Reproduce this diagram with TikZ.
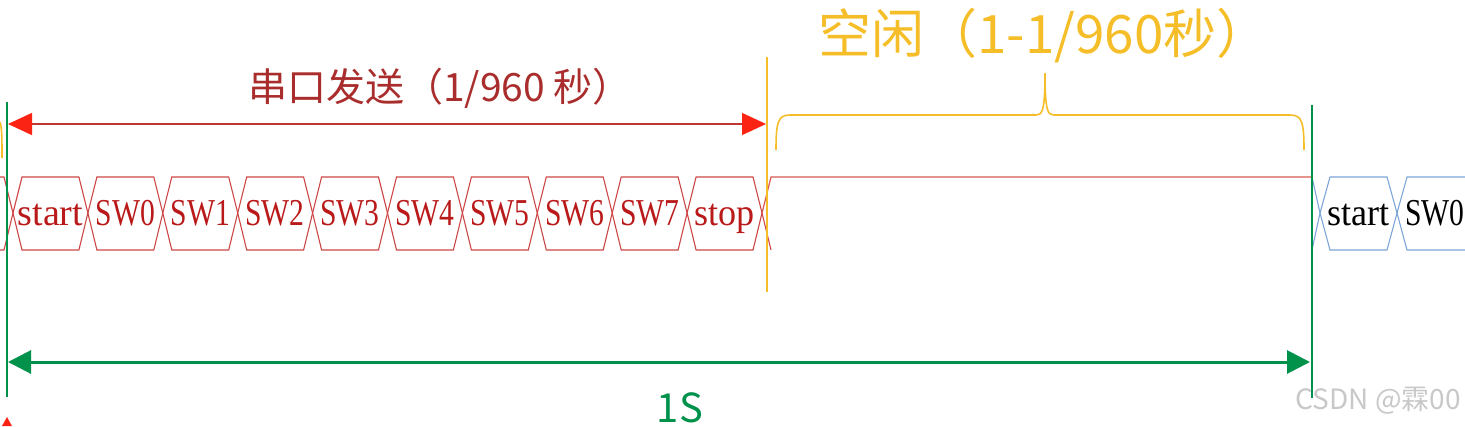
\documentclass[tikz,border=0pt]{standalone}
\usepackage{fontspec}
\setmainfont{Liberation Serif}
\newfontfamily\cjkf{Noto Sans CJK SC}
\usetikzlibrary{arrows.meta}
\definecolor{cellred}{RGB}{205,70,70}
\definecolor{txtred}{RGB}{185,25,25}
\definecolor{arrred}{RGB}{250,35,20}
\definecolor{lnred}{RGB}{190,55,50}
\definecolor{lblred}{RGB}{170,45,45}
\definecolor{ygold}{RGB}{245,190,40}
\definecolor{gline}{RGB}{0,145,75}
\definecolor{bline}{RGB}{125,165,215}
\definecolor{wm}{RGB}{200,200,200}
\definecolor{idle}{RGB}{215,90,80}
\begin{document}
\begin{tikzpicture}[x=1pt,y=-1pt,
  cellbox/.style={draw=cellred,line width=1.1pt,line join=miter},
  bluebox/.style={draw=bline,line width=1.1pt},
  celltext/.style={inner sep=0pt,anchor=base,text=txtred,font=\fontsize{38}{40}\selectfont},
  bluetext/.style={inner sep=0pt,anchor=base,text=black,font=\fontsize{38}{40}\selectfont},
  vgreen/.style={draw=gline,line width=2.6pt},
  vyellow/.style={draw=ygold,line width=2.2pt},
  redarrow/.style={draw=lnred,line width=1.3pt,{Triangle[length=24pt,width=22pt,color=arrred]}-{Triangle[length=24pt,width=22pt,color=arrred]}},
  greenarrow/.style={draw=gline,line width=3pt,{Triangle[length=23pt,width=23pt]}-{Triangle[length=23pt,width=23pt]}},
  bracestyle/.style={draw=ygold,line width=1.6pt},
  lbl/.style={inner sep=0pt,font=\cjkf}]
\useasboundingbox (0,0) rectangle (1465,426);
% vertical marker lines
\coordinate (gLt) at (7,102);
\coordinate (gLb) at (7,397);
\coordinate (gRt) at (1312,105);
\coordinate (gRb) at (1312,398);
\coordinate (yT) at (767,57);
\coordinate (yB) at (767,292);
\coordinate (rA) at (8,124);
\coordinate (rB) at (766,124);
\coordinate (gA) at (8,362);
\coordinate (gB) at (1310,362);
% red serial cells
\foreach \i/\t/\s in {0/start/1,1/SW0/0.78,2/SW1/0.78,3/SW2/0.78,4/SW3/0.78,5/SW4/0.78,6/SW5/0.78,7/SW6/0.78,8/SW7/0.78,9/stop/0.95}{
  \pgfmathsetmacro\xa{13+74.9*\i}
  \pgfmathsetmacro\xb{13+74.9*(\i+1)}
  \draw[cellbox] (\xa,213) -- (\xa+9,177) -- (\xb-9,177) -- (\xb,213) -- (\xb-9,250) -- (\xa+9,250) -- cycle;
  \node[celltext] (c\i) at ({(\xa+\xb)/2},225.5) {\scalebox{\s}[1]{\t}};
}
% left partial crossing
\draw[cellbox] (0,177) -- (4,177) -- (13,213) -- (4,250) -- (0,250);
% after stop: idle line
\draw[cellbox] (762,213) -- (771,250);
\draw[draw=idle,line width=1.2pt] (762,213) -- (771,177) -- (1312,177);
% blue next frame
\draw[bluebox] (1312,177) -- (1320,213) -- (1312,250);
\draw[bluebox] (1320,213) -- (1330,177) -- (1387,177) -- (1397,213) -- (1387,250) -- (1330,250) -- cycle;
\draw[bluebox] (1397,213) -- (1407,177) -- (1466,177);
\draw[bluebox] (1397,213) -- (1407,250) -- (1466,250);
\node[bluetext] (b0) at (1358.5,225.5) {\scalebox{0.95}[1]{start}};
\node[bluetext,anchor=base west] (b1) at (1405,225.5) {\scalebox{0.78}[1]{SW0}};
% verticals
\draw[vyellow] (yT) -- (yB);
\draw[vgreen] (gLt) -- (gLb);
\draw[vgreen] (gRt) -- (gRb);
% arrows
\draw[redarrow] (rA) -- (rB);
\draw[greenarrow,fill=gline] (gA) -- (gB);
% brace
\draw[bracestyle] (776,150) .. controls (776,122) and (778,115) .. (790,115) -- (1036,115)
  .. controls (1042,115) and (1045,112) .. (1045,73)
  .. controls (1045,112) and (1048,115) .. (1054,115) -- (1290,115)
  .. controls (1302,115) and (1304,122) .. (1304,150);
% fragment of previous brace at the left edge
\draw[bracestyle] (0,122) .. controls (2,128) and (2,140) .. (2,158);
% small red tip at bottom left
\fill[arrred] (2,426) -- (7,417) -- (12,426) -- cycle;
% labels
\node[lbl,text=lblred,font=\cjkf\fontsize{39}{42}\selectfont] (tsend) at (440,88) {串口发送（1/960 秒）};
\node[lbl,text=ygold,font=\cjkf\fontsize{53}{56}\selectfont] (tidle) at (1044,36) {空闲（1-1/960秒）};
\node[lbl,text=gline,font=\cjkf\fontsize{40}{44}\selectfont] (tone) at (680,408) {1S};
\node[lbl,text=wm,font=\cjkf\fontsize{28}{30}\selectfont,anchor=east] (wmark) at (1461,401) {CSDN @霖00};
\end{tikzpicture}
\end{document}
